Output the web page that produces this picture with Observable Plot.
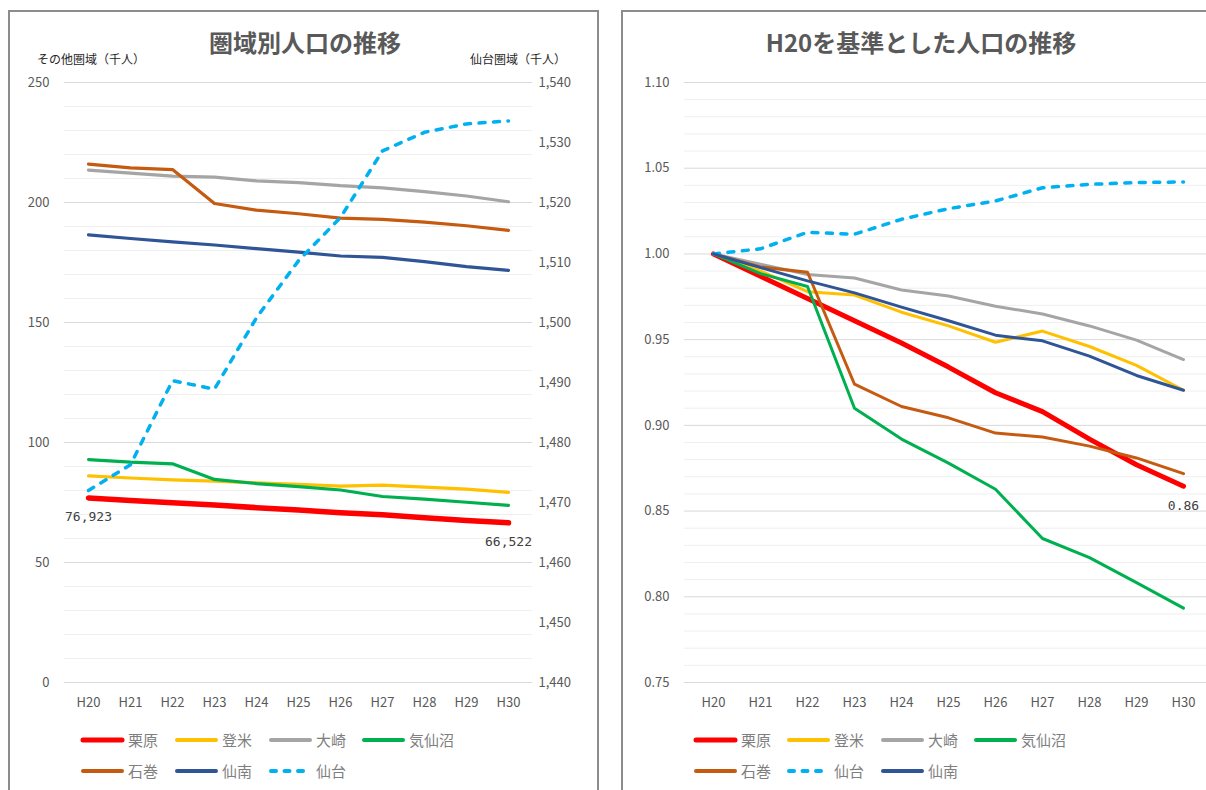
<!DOCTYPE html>
<html><head><meta charset="utf-8">
<script src="https://cdn.jsdelivr.net/npm/d3@7"></script>
<script src="https://cdn.jsdelivr.net/npm/@observablehq/plot@0.6"></script>
<style>
html,body{margin:0;padding:0;background:#fff;}
#root{position:relative;width:1206px;height:790px;overflow:hidden;background:#fff;font-family:"Noto Sans CJK JP","Noto Sans",sans-serif;}
.panel{position:absolute;border:2px solid #8c8c8c;box-sizing:border-box;background:#fff;}
.title{position:absolute;text-align:center;font-size:24px;font-weight:bold;color:#595959;line-height:28px;white-space:nowrap;}
.atitle{position:absolute;font-size:12px;color:#262626;line-height:14px;white-space:nowrap;}
.leg{position:absolute;display:flex;align-items:center;font-size:15px;color:#7f7f7f;line-height:18px;white-space:nowrap;}
.leg svg{margin-right:3px;}
</style>
</head><body><div id="root"></div>
<script>
// ---- data ----
const years = ["H20","H21","H22","H23","H24","H25","H26","H27","H28","H29","H30"];
// 千人 (その他圏域)
const kurihara   = [76.923, 75.85, 74.92, 73.92, 72.85, 71.85, 70.69, 69.85, 68.69, 67.54, 66.522];
const tome       = [86.1, 85.2, 84.4, 83.9, 83.2, 82.6, 81.8, 82.2, 81.4, 80.6, 79.2];
const osaki      = [213.5, 212.2, 211.0, 210.6, 209.0, 208.3, 207.0, 206.1, 204.5, 202.7, 200.3];
const kesennuma  = [92.9, 91.8, 91.1, 84.6, 82.9, 81.6, 80.2, 77.5, 76.4, 75.1, 73.8];
const ishinomaki = [216.0, 214.4, 213.7, 199.6, 196.8, 195.3, 193.5, 193.0, 191.8, 190.3, 188.4];
const sennan     = [186.5, 185.0, 183.6, 182.3, 180.8, 179.3, 177.7, 177.1, 175.4, 173.3, 171.7];
// 千人 (仙台圏域, secondary axis)
const sendai     = [1472.0, 1476.3, 1490.3, 1488.9, 1500.8, 1510.3, 1517.5, 1528.6, 1531.7, 1533.1, 1533.6];
// H20 = 1
const rKurihara   = [1, 0.987, 0.974, 0.961, 0.948, 0.934, 0.919, 0.908, 0.892, 0.877, 0.8645];
const rTome       = [1, 0.990, 0.978, 0.976, 0.966, 0.958, 0.9485, 0.955, 0.946, 0.935, 0.9205];
const rOsaki      = [1, 0.994, 0.988, 0.986, 0.979, 0.9755, 0.9695, 0.965, 0.958, 0.9497, 0.9384];
const rKesennuma  = [1, 0.9885, 0.981, 0.910, 0.892, 0.878, 0.8627, 0.834, 0.8228, 0.8083, 0.7934];
const rIshinomaki = [1, 0.9924, 0.9893, 0.924, 0.911, 0.9044, 0.8955, 0.8932, 0.8879, 0.881, 0.8718];
const rSendai     = [1, 1.003, 1.0126, 1.0115, 1.0202, 1.0264, 1.0309, 1.0386, 1.0406, 1.0416, 1.042];
const rSennan     = [1, 0.992, 0.9843, 0.9773, 0.969, 0.961, 0.9526, 0.9493, 0.9404, 0.9291, 0.9205];
// ticks & labels
const leftTicks  = [0, 50, 100, 150, 200, 250];
const rightTicks = [1440, 1450, 1460, 1470, 1480, 1490, 1500, 1510, 1520, 1530, 1540];
const ratioTicks = [0.75, 0.80, 0.85, 0.90, 0.95, 1.00, 1.05, 1.10];
const leftLabels = [{yr:"H20", v:76.923, t:"76,923"}, {yr:"H30", v:66.522, t:"66,522"}];
const rightLabels = [{yr:"H30", v:0.8645, t:"0.86"}];

const C = {kurihara:"#FF0000", tome:"#FFC000", osaki:"#A5A5A5", kesennuma:"#00B050",
           ishinomaki:"#C55A11", sennan:"#2F5597", sendai:"#00B0F0"};
const FONT = '"Noto Sans CJK JP","Noto Sans",sans-serif';

const rows = arr => years.map((yr,i)=>({yr, v: arr[i]}));
const sec = v => (v - 1440) * 2.5; // secondary axis → primary scale
const lineMark = (arr, color, w, dashed) => Plot.line(rows(arr), {
  x:"yr", y:"v", stroke: color, strokeWidth: w, strokeLinejoin:"round", strokeLinecap:"round",
  strokeDasharray: dashed ? "6,8.5" : null});

const root = document.getElementById("root");
function add(html, cls, style){const d=document.createElement("div");d.className=cls;d.innerHTML=html;Object.assign(d.style,style);root.appendChild(d);return d;}

add("", "panel", {left:"8px", top:"10px", width:"591px", height:"800px"});
add("", "panel", {left:"621px", top:"10px", width:"620px", height:"800px"});

// ---- left chart ----
const minorL = d3.range(0, 251, 10).filter(d => d % 50 !== 0);
const left = Plot.plot({
  width: 597, height: 720, marginLeft: 64, marginRight: 65, marginTop: 82, marginBottom: 38,
  style: {fontFamily: FONT, fontSize: "13px", color: "#595959", background: "transparent", overflow: "visible"},
  x: {type: "point", domain: years, padding: 0.5, label: null},
  y: {domain: [0, 250], label: null},
  marks: [
    Plot.ruleY(minorL, {stroke: "#efefef", strokeWidth: 1}),
    Plot.ruleY(leftTicks, {stroke: "#d9d9d9", strokeWidth: 1}),
    Plot.axisY(leftTicks, {tickSize: 0, tickPadding: 15, fontSize: 13, label: null}),
    Plot.axisY(rightTicks.map(sec), {anchor: "right", tickSize: 0, tickPadding: 6, fontSize: 13, label: null,
      tickFormat: d => d3.format(",")(Math.round(1440 + d / 2.5))}),
    Plot.axisX({tickSize: 0, tickPadding: 15, fontSize: 13, label: null}),
    lineMark(kurihara, C.kurihara, 5.5),
    lineMark(tome, C.tome, 3.2),
    lineMark(osaki, C.osaki, 3.2),
    lineMark(kesennuma, C.kesennuma, 3.2),
    lineMark(ishinomaki, C.ishinomaki, 3.2),
    lineMark(sennan, C.sennan, 3.2),
    lineMark(sendai.map(sec), C.sendai, 3.5, true),
    Plot.text(leftLabels, {x: "yr", y: "v", text: "t", dy: 19, fill: "#404040",
      fontFamily: "DejaVu Sans Mono", fontSize: 13})
  ]
});
left.style.position = "absolute"; left.style.left = "0px"; left.style.top = "0px";
root.appendChild(left);

// ---- right chart ----
const minorR = d3.range(75, 111, 1).filter(d => d % 5 !== 0).map(d => d / 100);
const right = Plot.plot({
  width: 600, height: 720, marginLeft: 62, marginRight: 11, marginTop: 82, marginBottom: 38,
  style: {fontFamily: FONT, fontSize: "13px", color: "#595959", background: "transparent", overflow: "visible"},
  x: {type: "point", domain: years, padding: 0.5, label: null},
  y: {domain: [0.75, 1.10], label: null},
  marks: [
    Plot.ruleY(minorR, {stroke: "#efefef", strokeWidth: 1}),
    Plot.ruleY(ratioTicks, {stroke: "#d9d9d9", strokeWidth: 1}),
    Plot.axisY(ratioTicks, {tickSize: 0, tickPadding: 15, fontSize: 13, label: null, tickFormat: d3.format(".2f")}),
    Plot.axisX({tickSize: 0, tickPadding: 15, fontSize: 13, label: null}),
    lineMark(rKurihara, C.kurihara, 5),
    lineMark(rTome, C.tome, 3),
    lineMark(rOsaki, C.osaki, 3),
    lineMark(rKesennuma, C.kesennuma, 3),
    lineMark(rIshinomaki, C.ishinomaki, 3),
    lineMark(rSendai, C.sendai, 3.5, true),
    lineMark(rSennan, C.sennan, 3),
    Plot.text(rightLabels, {x: "yr", y: "v", text: "t", dy: 20, fill: "#404040",
      fontFamily: "DejaVu Sans Mono", fontSize: 13})
  ]
});
right.style.position = "absolute"; right.style.left = "622px"; right.style.top = "0px";
root.appendChild(right);

// ---- titles ----
add("圏域別人口の推移", "title", {left: "0px", width: "610px", top: "28px"});
add("H20を基準とした人口の推移", "title", {left: "622px", width: "598px", top: "28px"});
add("その他圏域（千人）", "atitle", {left: "37px", top: "52px"});
add("仙台圏域（千人）", "atitle", {left: "470px", top: "52px"});

// ---- legends ----
function legendItem(x, y, name, color, w, dashed){
  const sw = `<svg width="45" height="10"><line x1="3" y1="5" x2="42" y2="5" stroke="${color}" stroke-width="${w}" stroke-linecap="round" ${dashed ? 'stroke-dasharray="5,8.5"' : ''}/></svg>`;
  add(sw + `<span>${name}</span>`, "leg", {left: x + "px", top: (y - 9) + "px"});
}
const legL = [
  [80, 740, "栗原", C.kurihara, 5, false], [174, 740, "登米", C.tome, 4, false],
  [268, 740, "大崎", C.osaki, 4, false], [361, 740, "気仙沼", C.kesennuma, 4, false],
  [80, 771, "石巻", C.ishinomaki, 4, false], [174, 771, "仙南", C.sennan, 4, false],
  [268, 771, "仙台", C.sendai, 4, true]];
const legR = [
  [693, 740, "栗原", C.kurihara, 5, false], [786, 740, "登米", C.tome, 4, false],
  [880, 740, "大崎", C.osaki, 4, false], [973, 740, "気仙沼", C.kesennuma, 4, false],
  [693, 771, "石巻", C.ishinomaki, 4, false], [786, 771, "仙台", C.sendai, 4, true],
  [880, 771, "仙南", C.sennan, 4, false]];
legL.concat(legR).forEach(a => legendItem(...a));
</script>
</body></html>
